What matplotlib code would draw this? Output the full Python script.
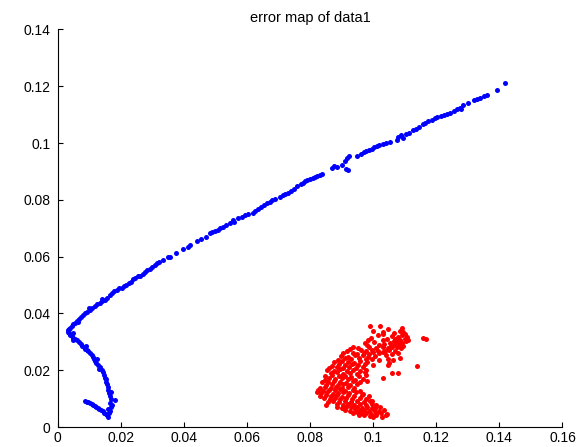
import numpy as np
import matplotlib
matplotlib.use("Agg")
import matplotlib.pyplot as plt

plt.rcParams['font.family'] = ['Liberation Sans', 'DejaVu Sans']

title = "error map of data1"
x_ticks = [0, 0.02, 0.04, 0.06, 0.08, 0.1, 0.12, 0.14, 0.16]
x_tick_labels = ["0", "0.02", "0.04", "0.06", "0.08", "0.1", "0.12", "0.14", "0.16"]
y_ticks = [0, 0.02, 0.04, 0.06, 0.08, 0.1, 0.12, 0.14]
y_tick_labels = ["0", "0.02", "0.04", "0.06", "0.08", "0.1", "0.12", "0.14"]

# blue series: hook near the origin, then the long rising branch
blue_points = [
    (0.0087, 0.0090), (0.0092, 0.0089), (0.0097, 0.0088), (0.0103, 0.0085), (0.0108, 0.0082),
    (0.0113, 0.0078), (0.0118, 0.0075), (0.0123, 0.0072), (0.0128, 0.0068), (0.0133, 0.0064),
    (0.0138, 0.0060), (0.0143, 0.0055), (0.0148, 0.0051), (0.0153, 0.0046), (0.0157, 0.0041),
    (0.0160, 0.0036), (0.0162, 0.0048), (0.0165, 0.0058), (0.0160, 0.0062), (0.0168, 0.0070),
    (0.0182, 0.0095), (0.0166, 0.0085), (0.0168, 0.0100), (0.0165, 0.0110), (0.0163, 0.0120),
    (0.0161, 0.0130), (0.0160, 0.0141), (0.0157, 0.0150), (0.0153, 0.0160), (0.0150, 0.0173),
    (0.0147, 0.0182), (0.0143, 0.0192), (0.0141, 0.0201), (0.0135, 0.0210), (0.0128, 0.0218),
    (0.0122, 0.0226), (0.0119, 0.0232), (0.0115, 0.0240), (0.0112, 0.0248), (0.0109, 0.0254),
    (0.0103, 0.0260), (0.0097, 0.0266), (0.0093, 0.0270), (0.0088, 0.0276), (0.0083, 0.0280),
    (0.0078, 0.0285), (0.0073, 0.0292), (0.0068, 0.0298), (0.0062, 0.0306), (0.0056, 0.0310),
    (0.0050, 0.0315), (0.0045, 0.0320), (0.0040, 0.0325), (0.0036, 0.0330), (0.0033, 0.0335),
    (0.0034, 0.0340), (0.0170, 0.0125), (0.0155, 0.0168), (0.0125, 0.0240), (0.0090, 0.0285),
    (0.0050, 0.0330), (0.0048, 0.0305), (0.0172, 0.0078), (0.0130, 0.0205),
    (0.0036, 0.0345), (0.0040, 0.0350), (0.0045, 0.0356), (0.0050, 0.0361), (0.0055, 0.0366),
    (0.0061, 0.0372), (0.0068, 0.0380), (0.0075, 0.0387), (0.0081, 0.0394), (0.0088, 0.0400),
    (0.0095, 0.0406), (0.0103, 0.0413), (0.0110, 0.0419), (0.0118, 0.0425), (0.0126, 0.0432),
    (0.0134, 0.0438), (0.0142, 0.0442), (0.0150, 0.0447), (0.0158, 0.0456), (0.0166, 0.0466),
    (0.0173, 0.0473), (0.0180, 0.0478), (0.0188, 0.0483), (0.0196, 0.0488), (0.0100, 0.0420),
    (0.0140, 0.0450), (0.0065, 0.0370),
    (0.0203, 0.0491), (0.0210, 0.0495), (0.0218, 0.0500), (0.0226, 0.0508), (0.0232, 0.0512),
    (0.0240, 0.0520), (0.0247, 0.0523), (0.0255, 0.0530), (0.0262, 0.0533), (0.0270, 0.0540),
    (0.0278, 0.0545), (0.0285, 0.0552), (0.0292, 0.0556), (0.0300, 0.0562), (0.0308, 0.0570),
    (0.0315, 0.0578), (0.0323, 0.0580), (0.0335, 0.0588), (0.0350, 0.0598), (0.0358, 0.0600),
    (0.0375, 0.0612), (0.0397, 0.0628), (0.0412, 0.0633), (0.0420, 0.0640), (0.0442, 0.0655),
    (0.0455, 0.0662), (0.0470, 0.0670), (0.0483, 0.0683), (0.0490, 0.0686), (0.0500, 0.0690),
    (0.0508, 0.0695), (0.0515, 0.0700), (0.0525, 0.0704), (0.0535, 0.0710), (0.0545, 0.0718),
    (0.0556, 0.0728), (0.0560, 0.0722), (0.0572, 0.0735), (0.0585, 0.0740), (0.0595, 0.0745),
    (0.0605, 0.0750), (0.0620, 0.0754), (0.0625, 0.0762), (0.0635, 0.0768), (0.0645, 0.0775),
    (0.0655, 0.0780), (0.0663, 0.0790), (0.0672, 0.0793), (0.0680, 0.0798), (0.0690, 0.0803),
    (0.0705, 0.0810), (0.0715, 0.0816), (0.0722, 0.0820), (0.0730, 0.0825), (0.0740, 0.0830),
    (0.0750, 0.0838), (0.0759, 0.0848), (0.0770, 0.0855), (0.0778, 0.0860), (0.0785, 0.0865),
    (0.0792, 0.0870), (0.0800, 0.0874), (0.0808, 0.0878), (0.0815, 0.0880), (0.0823, 0.0884),
    (0.0832, 0.0887), (0.0838, 0.0891), (0.0870, 0.0912), (0.0877, 0.0918), (0.0884, 0.0915),
    (0.0900, 0.0922), (0.0910, 0.0938), (0.0918, 0.0946), (0.0924, 0.0953), (0.0915, 0.0910),
    (0.0920, 0.0905), (0.0950, 0.0955), (0.0962, 0.0962), (0.0970, 0.0968), (0.0978, 0.0972),
    (0.0986, 0.0976), (0.0995, 0.0980), (0.1003, 0.0985), (0.1012, 0.0988), (0.1020, 0.0992),
    (0.1030, 0.0996), (0.1042, 0.0999), (0.1054, 0.1004), (0.1075, 0.1010), (0.1080, 0.1020),
    (0.1088, 0.1027), (0.1095, 0.1018), (0.1105, 0.1033), (0.1115, 0.1035), (0.1127, 0.1046),
    (0.1135, 0.1050), (0.1145, 0.1055), (0.1159, 0.1068), (0.1165, 0.1072), (0.1175, 0.1078),
    (0.1185, 0.1080), (0.1195, 0.1087), (0.1203, 0.1090), (0.1215, 0.1095), (0.1225, 0.1100),
    (0.1235, 0.1103), (0.1244, 0.1106), (0.1255, 0.1112), (0.1265, 0.1120), (0.1275, 0.1125),
    (0.1285, 0.1134), (0.1278, 0.1120), (0.1300, 0.1140), (0.1320, 0.1150), (0.1330, 0.1154),
    (0.1339, 0.1158), (0.1350, 0.1164), (0.1360, 0.1169), (0.1393, 0.1187), (0.1418, 0.1211),
]

# red series: the compact cluster at the lower right
red_points = [
    (0.0990, 0.0356), (0.1022, 0.0357), (0.1091, 0.0348),
    (0.0999, 0.0339), (0.1047, 0.0344), (0.1030, 0.0336), (0.1085, 0.0338),
    (0.1017, 0.0324), (0.1032, 0.0327), (0.1065, 0.0331), (0.1095, 0.0334), (0.1102, 0.0329),
    (0.0984, 0.0307), (0.1060, 0.0321), (0.1080, 0.0318), (0.1090, 0.0323), (0.1106, 0.0316),
    (0.1158, 0.0313), (0.1168, 0.0311),
    (0.0992, 0.0312), (0.1032, 0.0307), (0.1044, 0.0310), (0.1070, 0.0309), (0.1085, 0.0306),
    (0.1100, 0.0311), (0.1112, 0.0308),
    (0.0975, 0.0297), (0.1003, 0.0301), (0.1054, 0.0296), (0.1065, 0.0302), (0.1077, 0.0299),
    (0.1092, 0.0297), (0.1104, 0.0303),
    (0.0980, 0.0290), (0.1020, 0.0288), (0.1036, 0.0292), (0.1056, 0.0287), (0.1069, 0.0291),
    (0.1082, 0.0288), (0.1096, 0.0285),
    (0.0935, 0.0281), (0.0952, 0.0278), (0.0986, 0.0283), (0.1010, 0.0279), (0.1030, 0.0282),
    (0.1046, 0.0277), (0.1061, 0.0283), (0.1075, 0.0283), (0.1088, 0.0279),
    (0.0918, 0.0268), (0.0927, 0.0273), (0.0962, 0.0270), (0.0978, 0.0266), (0.0996, 0.0272),
    (0.1015, 0.0269), (0.1038, 0.0266), (0.1051, 0.0271), (0.1070, 0.0268),
    (0.0906, 0.0259), (0.0936, 0.0262), (0.0950, 0.0257), (0.0970, 0.0261), (0.0988, 0.0258),
    (0.1001, 0.0263), (0.1020, 0.0260), (0.1032, 0.0264), (0.1060, 0.0257), (0.1080, 0.0262),
    (0.0897, 0.0251), (0.0921, 0.0248), (0.0944, 0.0253), (0.0968, 0.0252), (0.0985, 0.0247),
    (0.1005, 0.0250), (0.1040, 0.0253), (0.1085, 0.0243), (0.1062, 0.0237),
    (0.0889, 0.0237), (0.0910, 0.0242), (0.0931, 0.0239), (0.0955, 0.0243), (0.0976, 0.0238),
    (0.0998, 0.0241), (0.1020, 0.0236), (0.1048, 0.0240),
    (0.0876, 0.0228), (0.0900, 0.0232), (0.0920, 0.0229), (0.0941, 0.0226), (0.0960, 0.0231),
    (0.0980, 0.0228), (0.1050, 0.0225),
    (0.0869, 0.0215), (0.0893, 0.0222), (0.0912, 0.0219), (0.0933, 0.0223), (0.0952, 0.0218),
    (0.0975, 0.0221), (0.1000, 0.0219), (0.1047, 0.0220), (0.1138, 0.0215),
    (0.0861, 0.0209), (0.0884, 0.0212), (0.0905, 0.0207), (0.0925, 0.0211), (0.0946, 0.0208),
    (0.0968, 0.0210),
    (0.0853, 0.0202), (0.0875, 0.0198), (0.0895, 0.0203), (0.0916, 0.0199), (0.0936, 0.0202),
    (0.0958, 0.0197), (0.0978, 0.0200),
    (0.0866, 0.0189), (0.0886, 0.0192), (0.0905, 0.0187), (0.0926, 0.0191), (0.0950, 0.0188),
    (0.0975, 0.0192), (0.1059, 0.0190), (0.1080, 0.0190),
    (0.0848, 0.0179), (0.0870, 0.0182), (0.0891, 0.0178), (0.0910, 0.0181), (0.0931, 0.0177),
    (0.0955, 0.0180), (0.0978, 0.0183),
    (0.0848, 0.0167), (0.0861, 0.0171), (0.0880, 0.0168), (0.0901, 0.0172), (0.0921, 0.0169),
    (0.0944, 0.0166), (0.0968, 0.0170), (0.1032, 0.0172),
    (0.0837, 0.0160), (0.0856, 0.0157), (0.0876, 0.0162), (0.0896, 0.0159), (0.0915, 0.0156),
    (0.0936, 0.0161), (0.0960, 0.0158), (0.0980, 0.0162),
    (0.0851, 0.0149), (0.0870, 0.0152), (0.0889, 0.0148), (0.0906, 0.0151), (0.0926, 0.0147),
    (0.0949, 0.0150),
    (0.0832, 0.0139), (0.0846, 0.0142), (0.0865, 0.0138), (0.0883, 0.0141), (0.0900, 0.0137),
    (0.0919, 0.0142), (0.0940, 0.0139),
    (0.0825, 0.0131), (0.0840, 0.0128), (0.0859, 0.0132), (0.0878, 0.0129), (0.0895, 0.0133),
    (0.0912, 0.0128), (0.0935, 0.0131), (0.0958, 0.0127),
    (0.0821, 0.0124), (0.0835, 0.0119), (0.0855, 0.0122), (0.0872, 0.0118), (0.0889, 0.0121),
    (0.0905, 0.0124), (0.0925, 0.0119), (0.0946, 0.0122), (0.0968, 0.0118),
    (0.0831, 0.0109), (0.0850, 0.0112), (0.0868, 0.0108), (0.0885, 0.0111), (0.0901, 0.0107),
    (0.0920, 0.0112), (0.0941, 0.0109), (0.0964, 0.0111), (0.0988, 0.0108),
    (0.0843, 0.0102), (0.0862, 0.0098), (0.0880, 0.0101), (0.0896, 0.0097), (0.0915, 0.0102),
    (0.0934, 0.0099), (0.0957, 0.0101), (0.0979, 0.0097), (0.0996, 0.0093),
    (0.0856, 0.0089), (0.0874, 0.0092), (0.0891, 0.0088), (0.0910, 0.0091), (0.0929, 0.0087),
    (0.0950, 0.0090), (0.0971, 0.0088), (0.0990, 0.0091),
    (0.0852, 0.0077), (0.0885, 0.0080), (0.0904, 0.0078), (0.0922, 0.0082), (0.0940, 0.0079),
    (0.0960, 0.0081), (0.0978, 0.0077), (0.0995, 0.0080), (0.1010, 0.0078),
    (0.0885, 0.0071), (0.0900, 0.0068), (0.0915, 0.0072), (0.0931, 0.0069), (0.0948, 0.0071),
    (0.0965, 0.0067), (0.0982, 0.0070), (0.0998, 0.0068), (0.1006, 0.0067), (0.1021, 0.0070),
    (0.0911, 0.0060), (0.0927, 0.0058), (0.0943, 0.0062), (0.0958, 0.0059), (0.0972, 0.0061),
    (0.0988, 0.0057), (0.1003, 0.0060), (0.1018, 0.0058), (0.1034, 0.0061),
    (0.0935, 0.0049), (0.0949, 0.0052), (0.0963, 0.0048), (0.0978, 0.0051), (0.0992, 0.0047),
    (0.1008, 0.0050), (0.1025, 0.0048), (0.1043, 0.0046),
    (0.0955, 0.0041), (0.0971, 0.0043), (0.0990, 0.0040), (0.1010, 0.0042), (0.1027, 0.0037),
    (0.1040, 0.0041), (0.1000, 0.0036),
]

blue = np.array(blue_points)
red = np.array(red_points)

fig = plt.figure(figsize=(5.88, 4.47), dpi=100)
ax = fig.add_axes([0.0978, 0.0447, 0.8588, 0.8895])

ax.plot(blue[:, 0], blue[:, 1], linestyle='none', marker='o', markersize=3.6,
        color=(0, 0, 1), markeredgewidth=0)
ax.plot(red[:, 0], red[:, 1], linestyle='none', marker='o', markersize=3.6,
        color=(1, 0, 0), markeredgewidth=0)

ax.set_xlim(0, 0.16)
ax.set_ylim(0, 0.14)
ax.set_xticks(x_ticks)
ax.set_xticklabels(x_tick_labels)
ax.set_yticks(y_ticks)
ax.set_yticklabels(y_tick_labels)

ax.spines['top'].set_visible(False)
ax.spines['right'].set_visible(False)
for side in ('left', 'bottom'):
    ax.spines[side].set_linewidth(0.8)
ax.tick_params(direction='in', length=3.5, width=0.8, labelsize=10, colors='black')
ax.tick_params(axis='x', pad=3)
ax.tick_params(axis='y', pad=5)

ax.set_title(title, fontsize=10.5, pad=5)

fig.savefig("out.png", dpi=100)
